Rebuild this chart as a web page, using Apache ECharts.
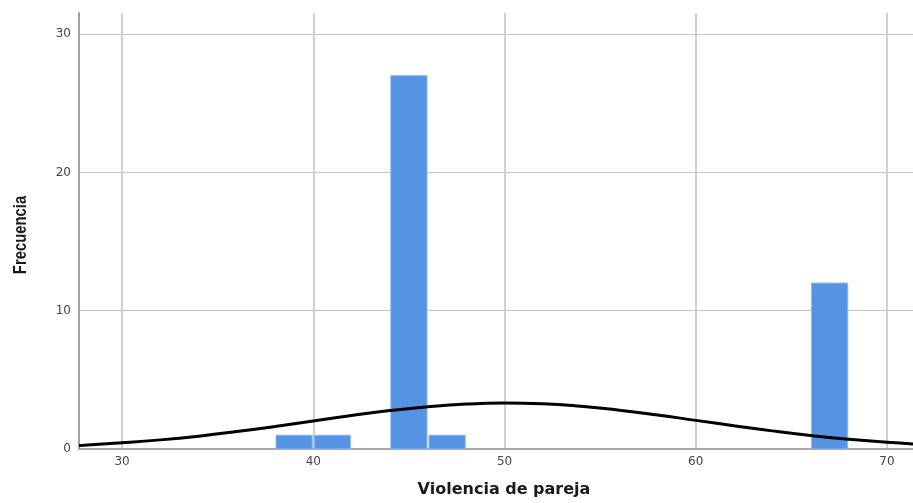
<!DOCTYPE html>
<html>
<head>
<meta charset="utf-8">
<script src="https://cdn.jsdelivr.net/npm/echarts@6/dist/echarts.min.js"></script>
<style>
html,body{margin:0;padding:0;background:#fff;}
#chart{width:913px;height:503px;}
</style>
</head>
<body>
<div id="chart"></div>
<script>
// Histogram bins: [start, end]
var binStarts = [38, 40, 44, 46, 66];
var binEnds   = [40, 42, 46, 48, 68];
var counts    = [1, 1, 27, 1, 12];

// Normal curve points
var curveX = [27.75, 28, 30, 32, 34, 36, 38, 40, 42, 44, 46, 48, 50, 52, 54, 56, 58, 60, 62, 64, 66, 68, 70, 72];
var curveY = [0.26, 0.28, 0.45, 0.66, 0.93, 1.26, 1.63, 2.02, 2.42, 2.78, 3.06, 3.25, 3.32, 3.27, 3.09, 2.81, 2.46, 2.07, 1.68, 1.31, 0.98, 0.70, 0.48, 0.32];

var xTicks = [30, 40, 50, 60, 70];
var yTicks = [0, 10, 20, 30];

var histData = binStarts.map(function (s, i) { return [s, binEnds[i], counts[i]]; });
var curveData = curveX.map(function (x, i) { return [x, curveY[i]]; });

var chart = echarts.init(document.getElementById('chart'));
chart.setOption({
  animation: false,
  backgroundColor: '#ffffff',
  grid: { left: 79, right: 0, top: 13, bottom: 53, containLabel: false },
  graphic: [{
    type: 'text',
    x: 21,
    y: 235,
    rotation: Math.PI / 2,
    scaleX: 0.78,
    style: {
      text: 'Frecuencia',
      font: 'bold 19px "Liberation Sans", Arial, sans-serif',
      fill: '#1a1a1a',
      align: 'center',
      verticalAlign: 'middle'
    }
  }],
  xAxis: {
    type: 'value',
    min: 27.75,
    max: 71.36,
    name: 'Violencia de pareja',
    nameLocation: 'middle',
    nameGap: 33,
    nameTextStyle: {
      fontFamily: 'DejaVu Sans',
      fontWeight: 'bold',
      fontSize: 16,
      color: '#1a1a1a',
      padding: [0, 0, 0, 16]
    },
    axisLine: { show: true, onZero: false, lineStyle: { color: '#a8a8a8', width: 2 } },
    axisTick: { show: false, customValues: xTicks },
    axisLabel: {
      customValues: xTicks,
      fontFamily: 'DejaVu Sans',
      fontSize: 12,
      color: '#444',
      margin: 7
    },
    splitLine: { show: true, showMinLine: true, showMaxLine: true, lineStyle: { color: '#cfcfcf', width: 2 } }
  },
  yAxis: {
    type: 'value',
    min: 0,
    max: 31.53,
    interval: 10,
    axisLine: { show: true, lineStyle: { color: '#a0a0a0', width: 2 } },
    axisTick: { show: false },
    axisLabel: {
      fontFamily: 'DejaVu Sans',
      fontSize: 12,
      color: '#444',
      margin: 8,
      showMaxLabel: false,
      formatter: function (v) { return yTicks.indexOf(v) >= 0 ? String(v) : ''; }
    },
    splitLine: { show: true, showMinLine: false, showMaxLine: false, lineStyle: { color: '#c4c4c4', width: 1 } }
  },
  series: [
    {
      type: 'custom',
      data: histData,
      encode: { x: [0, 1], y: 2 },
      z: 2,
      renderItem: function (params, api) {
        var p0 = api.coord([api.value(0), api.value(2)]);
        var p1 = api.coord([api.value(1), 0]);
        return {
          type: 'rect',
          shape: { x: p0[0] + 1, y: p0[1], width: p1[0] - p0[0] - 2, height: p1[1] - p0[1] },
          style: { fill: '#5494e3', stroke: '#8fb9ef', lineWidth: 1 }
        };
      }
    },
    {
      type: 'line',
      data: curveData,
      smooth: true,
      showSymbol: false,
      symbol: 'none',
      clip: true,
      z: 3,
      lineStyle: { color: '#000', width: 3 }
    }
  ]
});
</script>
</body>
</html>
